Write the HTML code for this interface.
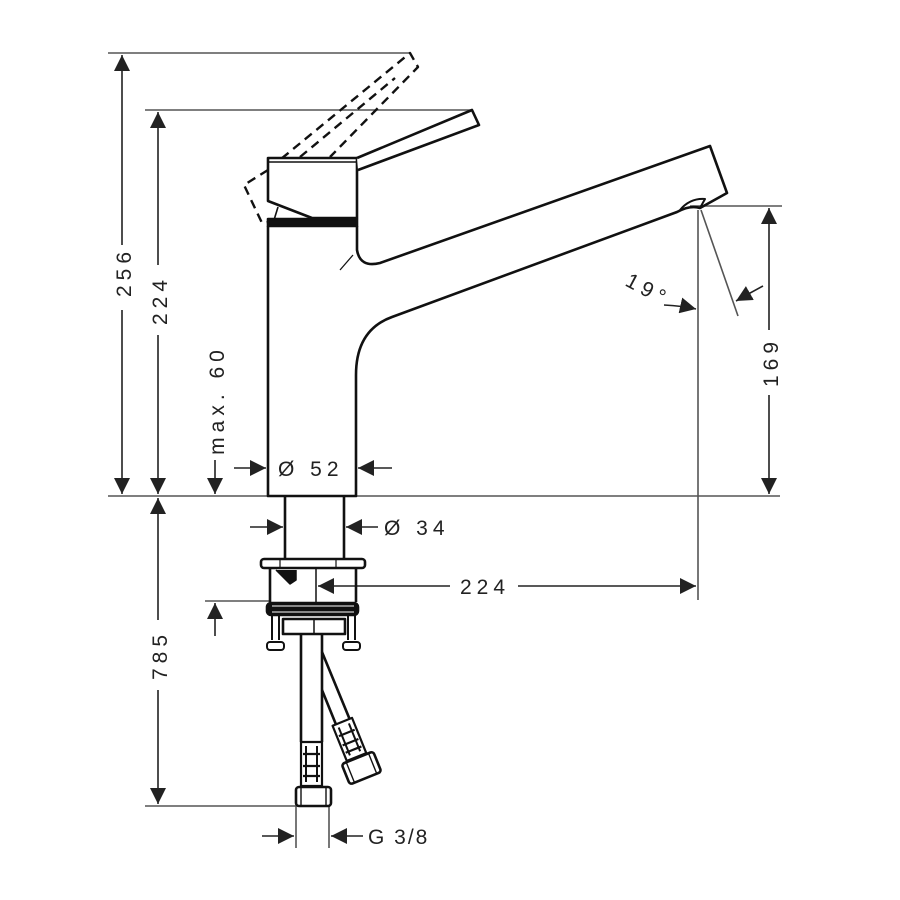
<!DOCTYPE html>
<html><head><style>
html,body{margin:0;padding:0;background:#fff;}
svg{display:block;}
text{font-family:"Liberation Sans",sans-serif;font-size:21px;fill:#222;letter-spacing:5px;}
</style></head><body>
<svg width="900" height="900" viewBox="0 0 900 900" xmlns="http://www.w3.org/2000/svg">
<defs>
<marker id="a" viewBox="0 0 10 10" refX="10" refY="5" markerWidth="16" markerHeight="16" markerUnits="userSpaceOnUse" orient="auto"><path d="M0,0 L10,5 L0,10 z" fill="#222"/></marker>
</defs>
<g stroke="#555" stroke-width="1.6" fill="none">
<line x1="108" y1="53" x2="410" y2="53"/>
<line x1="145" y1="110" x2="472" y2="110"/>
<line x1="108" y1="496" x2="780" y2="496"/>
<line x1="690" y1="206" x2="782" y2="206"/>
<line x1="145" y1="806" x2="296" y2="806"/>
<line x1="205" y1="601" x2="270" y2="601"/>
<line x1="698" y1="210" x2="698" y2="600"/>
<line x1="701" y1="210" x2="738" y2="316"/>
<line x1="296" y1="806" x2="296" y2="848"/>
<line x1="329" y1="806" x2="329" y2="848"/>
</g>
<g stroke="#222" stroke-width="1.6" fill="none">
<line x1="122" y1="245" x2="122" y2="55" marker-end="url(#a)"/>
<line x1="122" y1="310" x2="122" y2="494" marker-end="url(#a)"/>
<line x1="158" y1="265" x2="158" y2="112" marker-end="url(#a)"/>
<line x1="158" y1="335" x2="158" y2="494" marker-end="url(#a)"/>
<line x1="215" y1="460" x2="215" y2="494" marker-end="url(#a)"/>
<line x1="215" y1="636" x2="215" y2="603" marker-end="url(#a)"/>
<line x1="769" y1="330" x2="769" y2="208" marker-end="url(#a)"/>
<line x1="769" y1="395" x2="769" y2="494" marker-end="url(#a)"/>
<line x1="158" y1="620" x2="158" y2="498" marker-end="url(#a)"/>
<line x1="158" y1="690" x2="158" y2="804" marker-end="url(#a)"/>
<line x1="234" y1="468" x2="266" y2="468" marker-end="url(#a)"/>
<line x1="392" y1="468" x2="358" y2="468" marker-end="url(#a)"/>
<line x1="250" y1="527" x2="283" y2="527" marker-end="url(#a)"/>
<line x1="378" y1="527" x2="346" y2="527" marker-end="url(#a)"/>
<line x1="450" y1="586" x2="318" y2="586" marker-end="url(#a)"/>
<line x1="518" y1="586" x2="696" y2="586" marker-end="url(#a)"/>
<line x1="262" y1="836" x2="294" y2="836" marker-end="url(#a)"/>
<line x1="363" y1="836" x2="331" y2="836" marker-end="url(#a)"/>
<path d="M664,305 Q683,306 696,309" marker-end="url(#a)"/>
<path d="M763,286 Q750,293 736,301" marker-end="url(#a)"/>
</g>
<g stroke="#111" stroke-width="2.6" fill="none" stroke-linejoin="round">
<g stroke-dasharray="9,6" stroke-width="2.4">
<path d="M268,170 L244,185 L262,223 L268,222"/>
<path d="M270,168 L410,53 L418,67 L330,157"/>
<line x1="300" y1="157" x2="395" y2="78"/>
</g>
<path d="M268,158 L357,158 L357,218 L312,218 L268,201 Z" fill="#fff"/>
<line x1="268" y1="162" x2="357" y2="162" stroke-width="1.5"/>
<path d="M278,207 L274,220" stroke-width="1.6"/>
<rect x="268" y="219" width="89" height="7" fill="#111"/>
<path d="M357,158 L472,110 L479,125 L358,170" fill="#fff"/>
<path d="M268,226 L268,496 L356,496 L356,375 Q356,330 392,317 L677,212 Q690,205 700,208 L727,193 L710,146 L380,263 Q360,268 357,250 L357,226"/>
<path d="M680,210 Q690,198 705,199 L700,208" stroke-width="2"/>
<path d="M340,270 L353,255" stroke-width="1.3"/>
<path d="M285,496 L285,558 M344,496 L344,558"/>
<rect x="261" y="559" width="104" height="9" rx="3" fill="#fff"/>
<line x1="280" y1="560" x2="280" y2="567" stroke-width="1.2"/>
<line x1="336" y1="560" x2="336" y2="567" stroke-width="1.2"/>
<path d="M270,568 L270,602 M356,568 L356,602"/>
<path d="M316,568 L316,602" stroke-width="1.5"/>
<path d="M276,570 L290,584 L296,580 L296,570" fill="#111" stroke-width="1.5"/>
<rect x="267" y="603" width="91" height="12" rx="4" fill="#111"/>
<line x1="272" y1="606" x2="354" y2="606" stroke="#fff" stroke-width="1"/>
<line x1="272" y1="612" x2="354" y2="612" stroke="#fff" stroke-width="1"/>
<rect x="283" y="619" width="62" height="15" fill="#fff"/>
<line x1="314" y1="619" x2="314" y2="634" stroke-width="1.5"/>
<path d="M272,616 L272,640 M279,616 L279,640 M348,616 L348,640 M355,616 L355,640" stroke-width="2"/>
<rect x="267" y="642" width="17" height="8" rx="3" fill="#fff" stroke-width="2"/>
<rect x="343" y="642" width="17" height="8" rx="3" fill="#fff" stroke-width="2"/>
<path d="M301,634 L301,742 M322,634 L322,742"/>
<path d="M322,652 L350,720 M322,690 L337,727"/>
<rect x="301" y="742" width="21" height="44" fill="#fff" stroke-width="2.2"/>
<path d="M306,746 L306,782 M317,746 L317,782" stroke-width="2"/>
<path d="M303,754 L320,754 M303,766 L320,766 M303,776 L320,776" stroke-width="2.2"/>
<rect x="296" y="787" width="35" height="19" rx="3" fill="#fff"/>
<line x1="301" y1="787" x2="301" y2="806" stroke-width="1.4"/>
<line x1="326" y1="787" x2="326" y2="806" stroke-width="1.4"/>
<g transform="translate(351,742) rotate(-22)">
<rect x="-11" y="-22" width="21" height="38" fill="#fff" stroke-width="2.2"/>
<path d="M-6,-18 L-6,12 M5,-18 L5,12" stroke-width="2"/>
<path d="M-9,-10 L8,-10 M-9,0 L8,0 M-9,8 L8,8" stroke-width="2.2"/>
<rect x="-17" y="17" width="34" height="22" rx="3" fill="#fff"/>
<line x1="-12" y1="17" x2="-12" y2="39" stroke-width="1.4"/>
<line x1="12" y1="17" x2="12" y2="39" stroke-width="1.4"/>
</g>
</g>
<text transform="translate(131,272) rotate(-90)" text-anchor="middle">256</text>
<text transform="translate(167,300) rotate(-90)" text-anchor="middle">224</text>
<text transform="translate(224,400) rotate(-90)" text-anchor="middle">max. 60</text>
<text transform="translate(778,362) rotate(-90)" text-anchor="middle">169</text>
<text transform="translate(167,655) rotate(-90)" text-anchor="middle">785</text>
<text x="278" y="476">Ø 52</text>
<text x="384" y="535">Ø 34</text>
<text x="460" y="594">224</text>
<text x="368" y="844" style="letter-spacing:2px">G 3/8</text>
<text transform="translate(624,285) rotate(28)">19°</text>
</svg>
</body></html>
